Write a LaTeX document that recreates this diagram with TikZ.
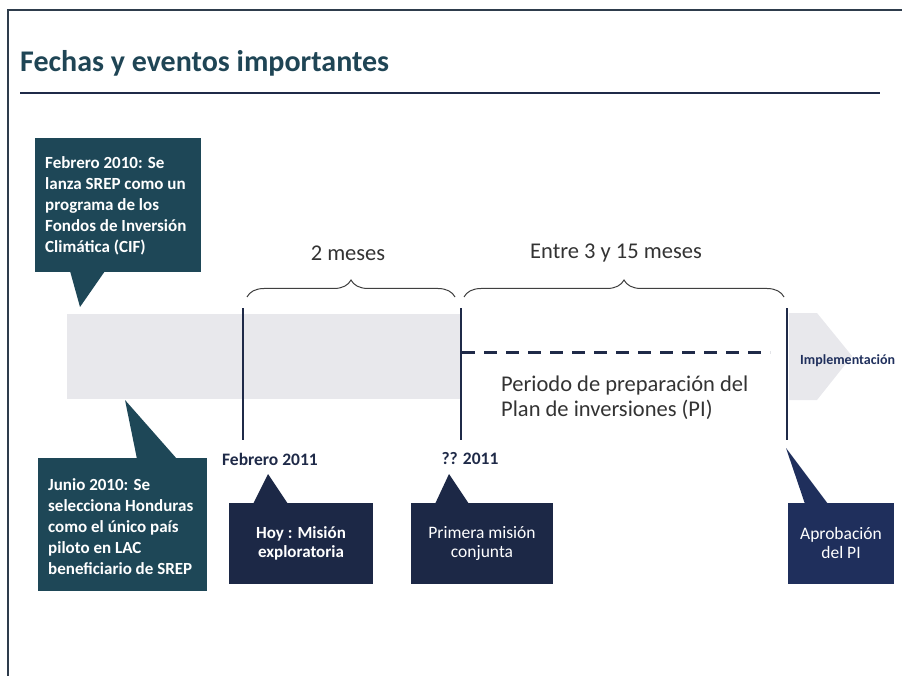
\documentclass[tikz,border=0pt]{standalone}
\usepackage{fontspec}
\setmainfont{Carlito}
\usetikzlibrary{decorations.pathreplacing}
\definecolor{tealbox}{HTML}{1E4757}
\definecolor{navybox}{HTML}{1C2846}
\definecolor{aprobbox}{HTML}{1F2F5C}
\definecolor{titlecol}{HTML}{1F4555}
\definecolor{linecol}{HTML}{1F2A48}
\definecolor{framecol}{HTML}{2E3C4C}
\definecolor{bandcol}{HTML}{E8E8EC}
\newcommand{\pointer}[7]{ \fill[#1] ( #2 , #3 ) -- ( #4 , #5 ) -- ( #6 , #7 ) -- cycle;}
\tikzset{
  callbox/.style={fill=#1, inner sep=0pt, anchor=north west},
  calltext/.style={text=white, inner sep=0pt, align=left, font=\fontsize{17}{21}\selectfont\bfseries},
  boxtext/.style={text=white, inner sep=0pt, align=center, font=\fontsize{17.5}{19}\selectfont},
  datetext/.style={text=linecol, inner sep=0pt, font=\fontsize{17.5}{19}\selectfont\bfseries},
  spantext/.style={text=black!80, inner sep=0pt, font=\fontsize{22.5}{25}\selectfont},
  mark line/.style={linecol, line width=2pt},
  spanbrace/.style={decorate, decoration={brace, amplitude=17pt}, black!75, line width=1pt}
}
\begin{document}
\begin{tikzpicture}[x=1pt, y=-1pt]
\useasboundingbox (0,0) rectangle (902,676);
%
\draw[framecol, line width=2pt] (8,676) -- (8,10) -- (902,10);
\node[anchor=base west, inner sep=0pt, text=titlecol, font=\fontsize{30}{36}\selectfont\bfseries] (titulo) at (20,72) {Fechas y eventos importantes};
\draw[linecol, line width=2.5pt] (20,93) -- (880,93);
%
\fill[bandcol] (67,314) rectangle (460,399);
\fill[bandcol] (789,313) -- (817,313) -- (852,356) -- (817,400) -- (789,400) -- cycle;
\node[anchor=west, inner sep=0pt, text=aprobbox, font=\fontsize{14}{16}\selectfont\bfseries] (impl) at (800,361) {Implementación};
%
\draw[mark line] (243,308) -- (243,440);
\draw[mark line] (461,308) -- (461,440);
\draw[mark line] (787,308) -- (787,440);
\draw[linecol, line width=3pt, dash pattern=on 13pt off 9pt] (462,352) -- (770,352);
%
\draw[spanbrace] (247,297) -- (455,297);
\draw[spanbrace] (464,297) -- (784,297);
\node[spantext] (dosmeses) at (348,253) {2 meses};
\node[spantext] (quincemeses) at (616,253) {Entre 3 y 15 meses};
\node[spantext, anchor=west, align=left] (periodo) at (501,398) {Periodo de preparación del\\Plan de inversiones (PI)};
%
\node[datetext] (feb11) at (270,459) {Febrero 2011};
\node[datetext] (mes11) at (470,459) {?? 2011};
%
\node[callbox=tealbox, minimum width=166pt, minimum height=134pt] (caja1) at (35,138) {};
\pointer{tealbox}{70}{271}{105}{271}{80}{307}
\node[calltext, anchor=west] (texto1) at (45,206) {Febrero 2010: Se\\lanza SREP como un\\programa de los\\Fondos de Inversión\\Climática (CIF)};
%
\node[callbox=tealbox, minimum width=169pt, minimum height=133pt] (caja2) at (38,458) {};
\pointer{tealbox}{137}{459}{177}{459}{125}{400}
\node[calltext, anchor=west] (texto2) at (48,527) {Junio 2010: Se\\selecciona Honduras\\como el único país\\piloto en LAC\\beneficiario de SREP};
%
\node[callbox=navybox, minimum width=144pt, minimum height=81pt] (caja3) at (229,503) {};
\pointer{navybox}{253}{504}{288}{504}{268}{474}
\node[boxtext, font=\fontsize{17}{19}\selectfont\bfseries] (texto3) at (301,543) {Hoy : Misión\\exploratoria};
%
\node[callbox=navybox, minimum width=142pt, minimum height=81pt] (caja4) at (411,503) {};
\pointer{navybox}{435}{504}{469}{504}{449}{474}
\node[boxtext] (texto4) at (482,543) {Primera misión\\conjunta};
%
\node[callbox=aprobbox, minimum width=106pt, minimum height=81pt] (caja5) at (788,503) {};
\pointer{aprobbox}{805}{504}{828}{504}{786}{448}
\node[boxtext] (texto5) at (841,543) {Aprobación\\del PI};
\end{tikzpicture}
\end{document}
